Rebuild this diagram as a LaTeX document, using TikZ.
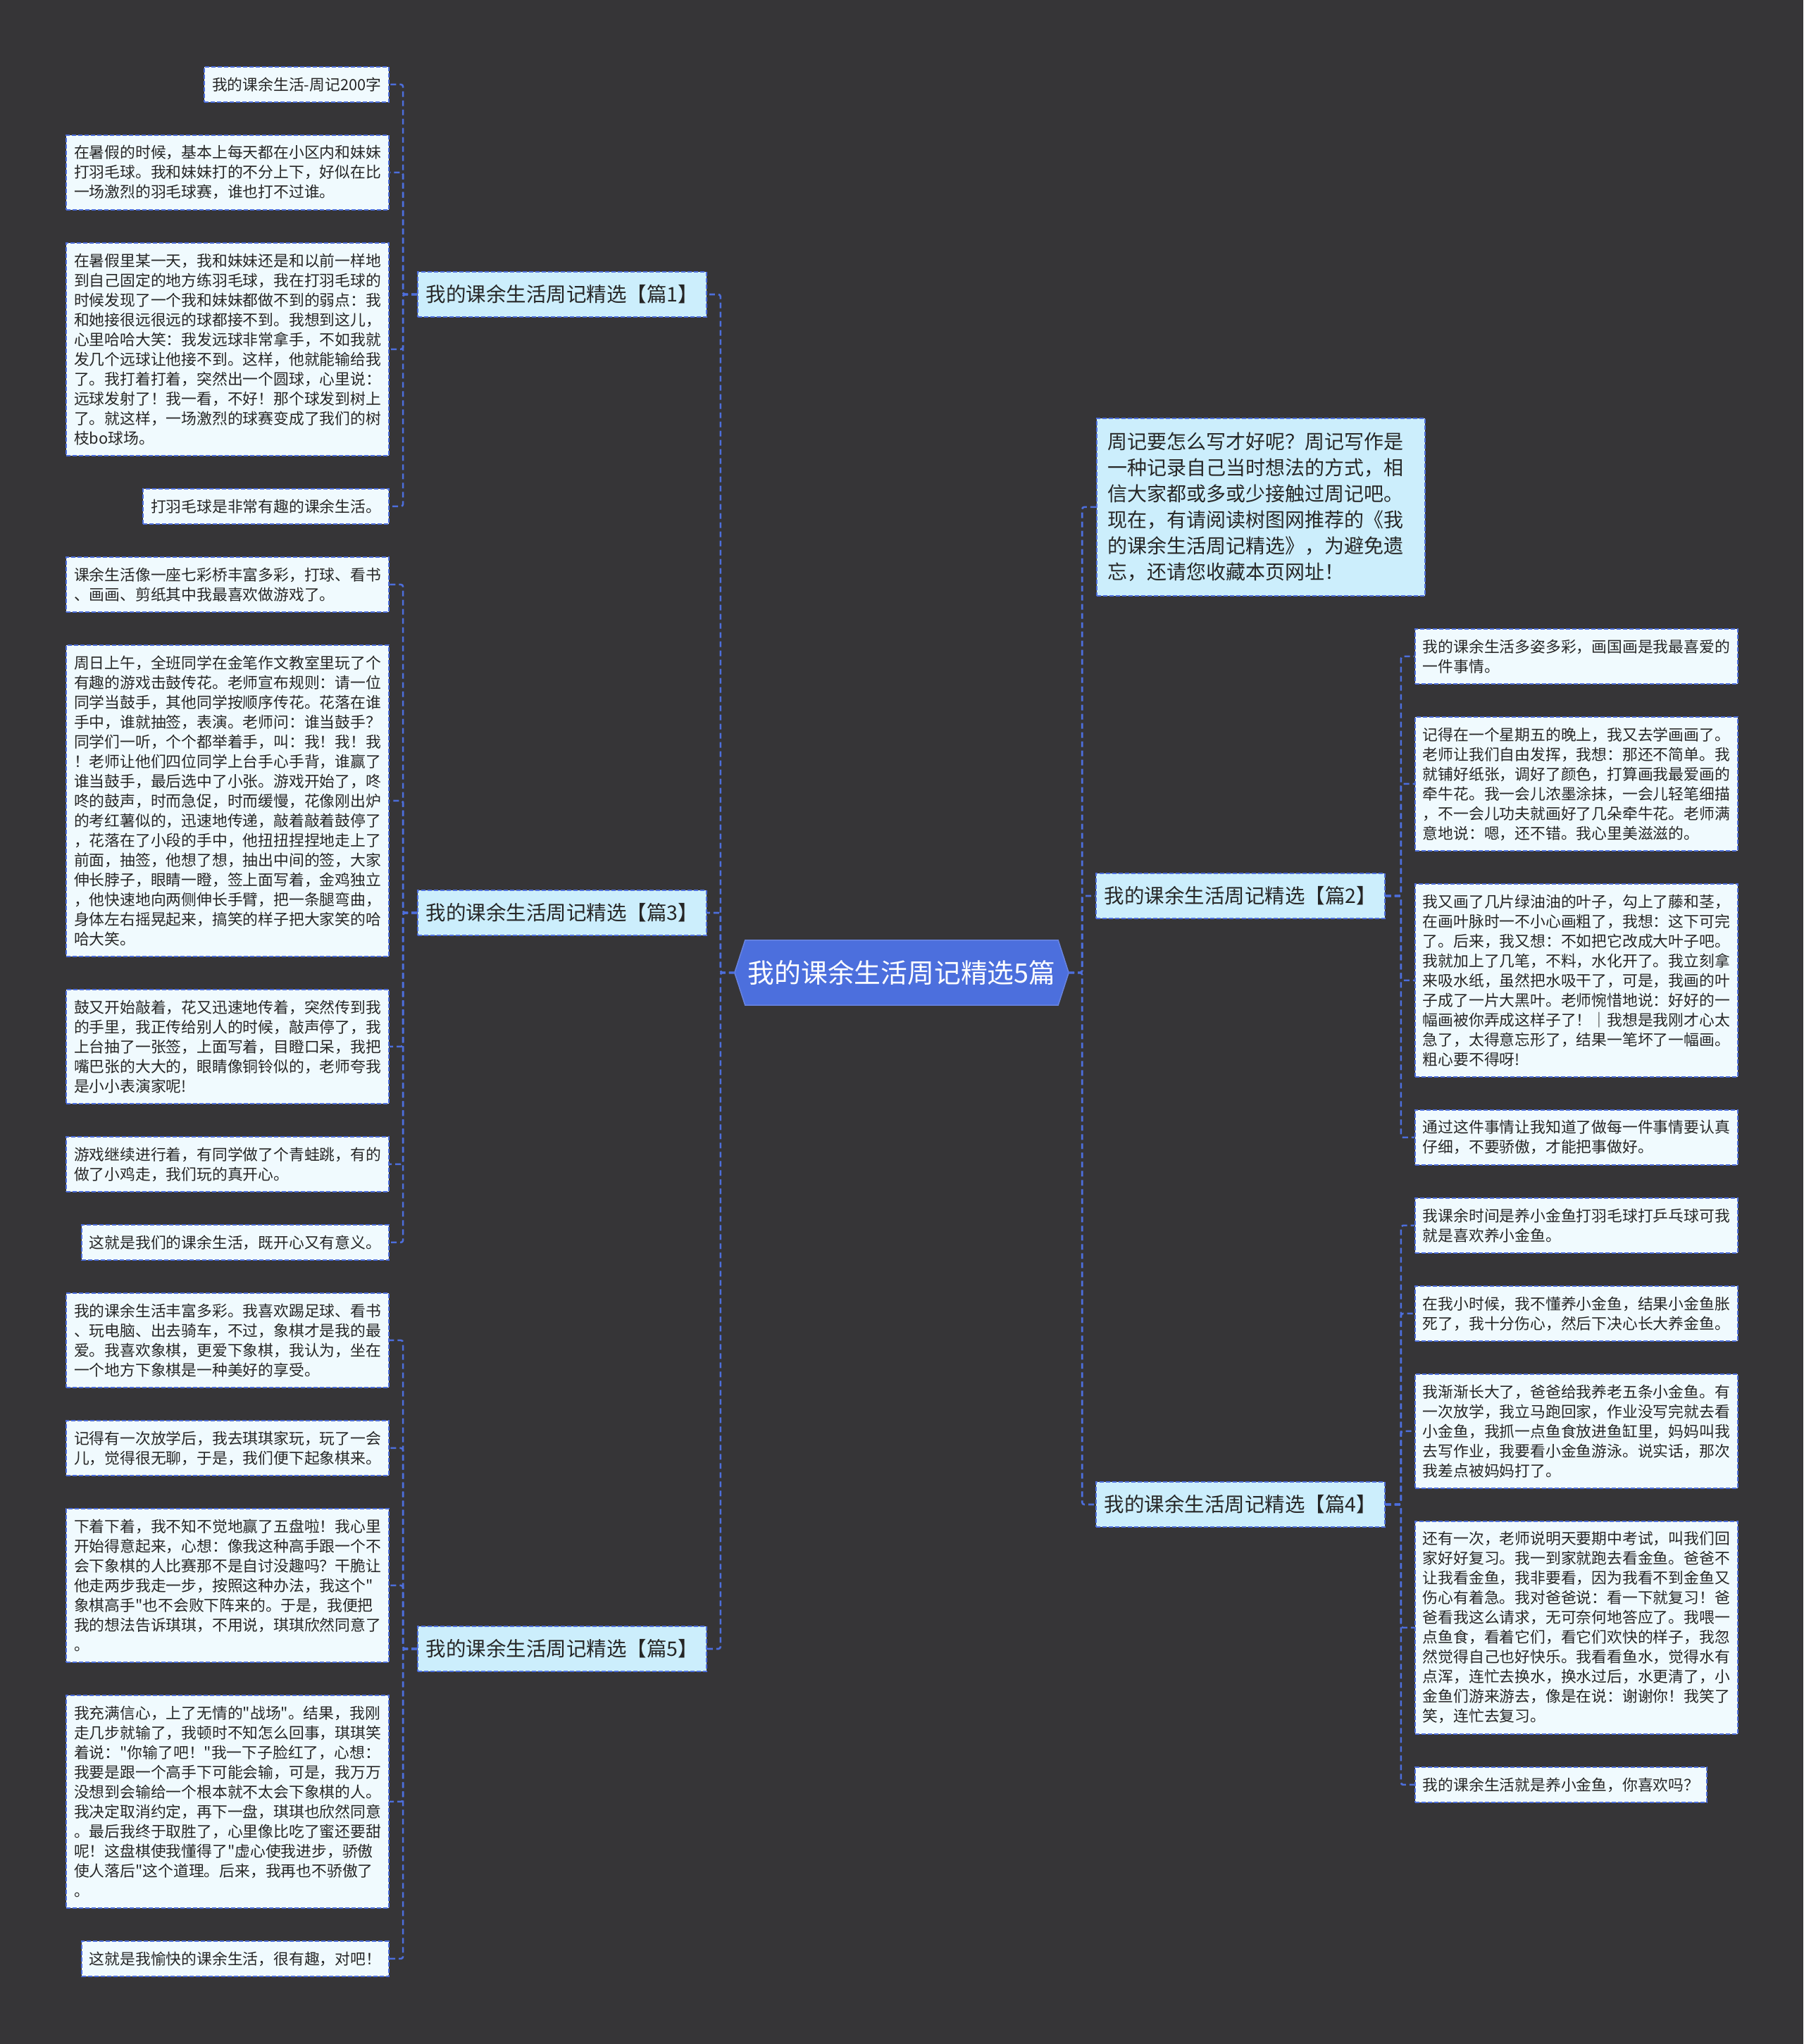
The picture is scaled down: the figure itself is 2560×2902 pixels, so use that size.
\documentclass[tikz,border=0pt]{standalone}
\usepackage{fontspec}
\setmainfont{Noto Sans CJK SC}[Ligatures=TeXOff]
\usetikzlibrary{backgrounds}
\definecolor{bgc}{HTML}{363537}
\definecolor{lineblue}{HTML}{4D6EDC}
\definecolor{centerfill}{HTML}{4C6FDD}
\definecolor{leaffill}{HTML}{F0FAFE}
\definecolor{branchfill}{HTML}{CCEEFC}
\definecolor{txt}{HTML}{262626}
\tikzset{
  boxbase/.style={draw=lineblue, line width=1.8pt, dash pattern=on 6pt off 3pt, text=txt},
  leafbase/.style={boxbase, fill=leaffill, inner xsep=11pt, inner ysep=0pt,
    font=\fontsize{21.8pt}{28pt}\selectfont, align=left},
  leaf/.style={leafbase, text width=436pt},
  branch/.style={boxbase, fill=branchfill, minimum width=410, minimum height=64, inner sep=0pt,
    font=\fontsize{28.5pt}{32pt}\selectfont},
  intro/.style={boxbase, fill=branchfill, inner xsep=16pt, inner ysep=0pt, text width=434pt,
    minimum height=252, align=left, font=\fontsize{28pt}{37pt}\selectfont},
  conn/.style={draw=lineblue, line width=2.6pt, dash pattern=on 8pt off 5pt, rounded corners=3pt},
}
\begin{document}
\begin{tikzpicture}[x=1pt,y=-1pt]
\useasboundingbox (0,0) rectangle (2560,2902);
\begin{pgfonlayer}{background}
\fill[bgc] (0,0) rectangle (2560,2902);
\end{pgfonlayer}

% center
\node[font=\fontsize{37.8pt}{40pt}\selectfont, text=white, minimum width=474, minimum height=92, inner sep=0pt] (c) at (1280,1381) {我的课余生活周记精选5篇};
\begin{pgfonlayer}{background}
\filldraw[fill=centerfill, draw=lineblue!85!white, line width=1.5pt] (c.west) -- ([xshift=15pt]c.north west) -- ([xshift=-15pt]c.north east) -- (c.east) -- ([xshift=-15pt]c.south east) -- ([xshift=15pt]c.south west) -- cycle;
\end{pgfonlayer}

% left branches
\node[branch] (b1) at (798,418) {我的课余生活周记精选【篇1】};
\node[branch] (b3) at (798,1296) {我的课余生活周记精选【篇3】};
\node[branch] (b5) at (798,2341) {我的课余生活周记精选【篇5】};

% right side
\node[intro, anchor=north west] (intro) at (1556,593) {周记要怎么写才好呢？周记写作是\\一种记录自己当时想法的方式，相\\信大家都或多或少接触过周记吧。\\现在，有请阅读树图网推荐的《我\\的课余生活周记精选》，为避免遗\\忘，还请您收藏本页网址！};
\node[branch] (b2) at (1761,1272) {我的课余生活周记精选【篇2】};
\node[branch] (b4) at (1761,2136) {我的课余生活周记精选【篇4】};

% left leaves, branch 1
\node[leafbase, minimum height=50, anchor=north east] (L1) at (553,94) {我的课余生活-周记200字};
\node[leaf, minimum height=106, anchor=north east] (L2) at (553,191) {在暑假的时候，基本上每天都在小区内和妹妹\\打羽毛球。我和妹妹打的不分上下，好似在比\\一场激烈的羽毛球赛，谁也打不过谁。};
\node[leaf, minimum height=302, anchor=north east] (L3) at (553,344) {在暑假里某一天，我和妹妹还是和以前一样地\\到自己固定的地方练羽毛球，我在打羽毛球的\\时候发现了一个我和妹妹都做不到的弱点：我\\和她接很远很远的球都接不到。我想到这儿，\\心里哈哈大笑：我发远球非常拿手，不如我就\\发几个远球让他接不到。这样，他就能输给我\\了。我打着打着，突然出一个圆球，心里说：\\远球发射了！我一看，不好！那个球发到树上\\了。就这样，一场激烈的球赛变成了我们的树\\枝bo球场。};
\node[leafbase, minimum height=50, anchor=north east] (L4) at (553,693) {打羽毛球是非常有趣的课余生活。};

% branch 3
\node[leaf, minimum height=78, anchor=north east] (L5) at (553,790) {课余生活像一座七彩桥丰富多彩，打球、看书\\、画画、剪纸其中我最喜欢做游戏了。};
\node[leaf, minimum height=442, anchor=north east] (L6) at (553,915) {周日上午，全班同学在金笔作文教室里玩了个\\有趣的游戏击鼓传花。老师宣布规则：请一位\\同学当鼓手，其他同学按顺序传花。花落在谁\\手中，谁就抽签，表演。老师问：谁当鼓手？\\同学们一听，个个都举着手，叫：我！我！我\\！老师让他们四位同学上台手心手背，谁赢了\\谁当鼓手，最后选中了小张。游戏开始了，咚\\咚的鼓声，时而急促，时而缓慢，花像刚出炉\\的考红薯似的，迅速地传递，敲着敲着鼓停了\\，花落在了小段的手中，他扭扭捏捏地走上了\\前面，抽签，他想了想，抽出中间的签，大家\\伸长脖子，眼睛一瞪，签上面写着，金鸡独立\\，他快速地向两侧伸长手臂，把一条腿弯曲，\\身体左右摇晃起来，搞笑的样子把大家笑的哈\\哈大笑。};
\node[leaf, minimum height=162, anchor=north east] (L7) at (553,1404) {鼓又开始敲着，花又迅速地传着，突然传到我\\的手里，我正传给别人的时候，敲声停了，我\\上台抽了一张签，上面写着，目瞪口呆，我把\\嘴巴张的大大的，眼睛像铜铃似的，老师夸我\\是小小表演家呢!};
\node[leaf, minimum height=78, anchor=north east] (L8) at (553,1613) {游戏继续进行着，有同学做了个青蛙跳，有的\\做了小鸡走，我们玩的真开心。};
\node[leafbase, minimum height=50, anchor=north east] (L9) at (553,1738) {这就是我们的课余生活，既开心又有意义。};

% branch 5
\node[leaf, minimum height=134, anchor=north east] (L10) at (553,1835) {我的课余生活丰富多彩。我喜欢踢足球、看书\\、玩电脑、出去骑车，不过，象棋才是我的最\\爱。我喜欢象棋，更爱下象棋，我认为，坐在\\一个地方下象棋是一种美好的享受。};
\node[leaf, minimum height=78, anchor=north east] (L11) at (553,2016) {记得有一次放学后，我去琪琪家玩，玩了一会\\儿，觉得很无聊，于是，我们便下起象棋来。};
\node[leaf, minimum height=218, anchor=north east] (L12) at (553,2141) {下着下着，我不知不觉地赢了五盘啦！我心里\\开始得意起来，心想：像我这种高手跟一个不\\会下象棋的人比赛那不是自讨没趣吗？干脆让\\他走两步我走一步，按照这种办法，我这个"\\象棋高手"也不会败下阵来的。于是，我便把\\我的想法告诉琪琪，不用说，琪琪欣然同意了\\。};
\node[leaf, minimum height=302, anchor=north east] (L13) at (553,2406) {我充满信心，上了无情的"战场"。结果，我刚\\走几步就输了，我顿时不知怎么回事，琪琪笑\\着说："你输了吧！"我一下子脸红了，心想：\\我要是跟一个高手下可能会输，可是，我万万\\没想到会输给一个根本就不太会下象棋的人。\\我决定取消约定，再下一盘，琪琪也欣然同意\\。最后我终于取胜了，心里像比吃了蜜还要甜\\呢！这盘棋使我懂得了"虚心使我进步，骄傲\\使人落后"这个道理。后来，我再也不骄傲了\\。};
\node[leafbase, minimum height=50, anchor=north east] (L14) at (553,2755) {这就是我愉快的课余生活，很有趣，对吧！};

% right leaves, branch 2
\node[leaf, minimum height=78, anchor=north west] (R1) at (2008,892) {我的课余生活多姿多彩，画国画是我最喜爱的\\一件事情。};
\node[leaf, minimum height=190, anchor=north west] (R2) at (2008,1017) {记得在一个星期五的晚上，我又去学画画了。\\老师让我们自由发挥，我想：那还不简单。我\\就铺好纸张，调好了颜色，打算画我最爱画的\\牵牛花。我一会儿浓墨涂抹，一会儿轻笔细描\\，不一会儿功夫就画好了几朵牵牛花。老师满\\意地说：嗯，还不错。我心里美滋滋的。};
\node[leaf, minimum height=274, anchor=north west] (R3) at (2008,1254) {我又画了几片绿油油的叶子，勾上了藤和茎，\\在画叶脉时一不小心画粗了，我想：这下可完\\了。后来，我又想：不如把它改成大叶子吧。\\我就加上了几笔，不料，水化开了。我立刻拿\\来吸水纸，虽然把水吸干了，可是，我画的叶\\子成了一片大黑叶。老师惋惜地说：好好的一\\幅画被你弄成这样子了！｜我想是我刚才心太\\急了，太得意忘形了，结果一笔坏了一幅画。\\粗心要不得呀!};
\node[leaf, minimum height=78, anchor=north west] (R4) at (2008,1575) {通过这件事情让我知道了做每一件事情要认真\\仔细，不要骄傲，才能把事做好。};

% branch 4
\node[leaf, minimum height=78, anchor=north west] (R5) at (2008,1700) {我课余时间是养小金鱼打羽毛球打乒乓球可我\\就是喜欢养小金鱼。};
\node[leaf, minimum height=78, anchor=north west] (R6) at (2008,1825) {在我小时候，我不懂养小金鱼，结果小金鱼胀\\死了，我十分伤心，然后下决心长大养金鱼。};
\node[leaf, minimum height=162, anchor=north west] (R7) at (2008,1950) {我渐渐长大了，爸爸给我养老五条小金鱼。有\\一次放学，我立马跑回家，作业没写完就去看\\小金鱼，我抓一点鱼食放进鱼缸里，妈妈叫我\\去写作业，我要看小金鱼游泳。说实话，那次\\我差点被妈妈打了。};
\node[leaf, minimum height=302, anchor=north west] (R8) at (2008,2159) {还有一次，老师说明天要期中考试，叫我们回\\家好好复习。我一到家就跑去看金鱼。爸爸不\\让我看金鱼，我非要看，因为我看不到金鱼又\\伤心有着急。我对爸爸说：看一下就复习！爸\\爸看我这么请求，无可奈何地答应了。我喂一\\点鱼食，看着它们，看它们欢快的样子，我忽\\然觉得自己也好快乐。我看看鱼水，觉得水有\\点浑，连忙去换水，换水过后，水更清了，小\\金鱼们游来游去，像是在说：谢谢你！我笑了\\笑，连忙去复习。};
\node[leafbase, minimum height=50, anchor=north west] (R9) at (2008,2508) {我的课余生活就是养小金鱼，你喜欢吗？};

% connectors: center to branches
\foreach \b in {b1,b3,b5} \draw[conn] (c.west) -- ++(-20,0) |- (\b.east);
\foreach \b in {intro,b2,b4} \draw[conn] (c.east) -- ++(19,0) |- (\b.west);
% branches to leaves
\foreach \l in {L1,L2,L3,L4} \draw[conn] (b1.west) -- ++(-20,0) |- (\l.east);
\foreach \l in {L5,L6,L7,L8,L9} \draw[conn] (b3.west) -- ++(-20,0) |- (\l.east);
\foreach \l in {L10,L11,L12,L13,L14} \draw[conn] (b5.west) -- ++(-20,0) |- (\l.east);
\foreach \l in {R1,R2,R3,R4} \draw[conn] (b2.east) -- ++(22,0) |- (\l.west);
\foreach \l in {R5,R6,R7,R8,R9} \draw[conn] (b4.east) -- ++(22,0) |- (\l.west);
\end{tikzpicture}
\end{document}
